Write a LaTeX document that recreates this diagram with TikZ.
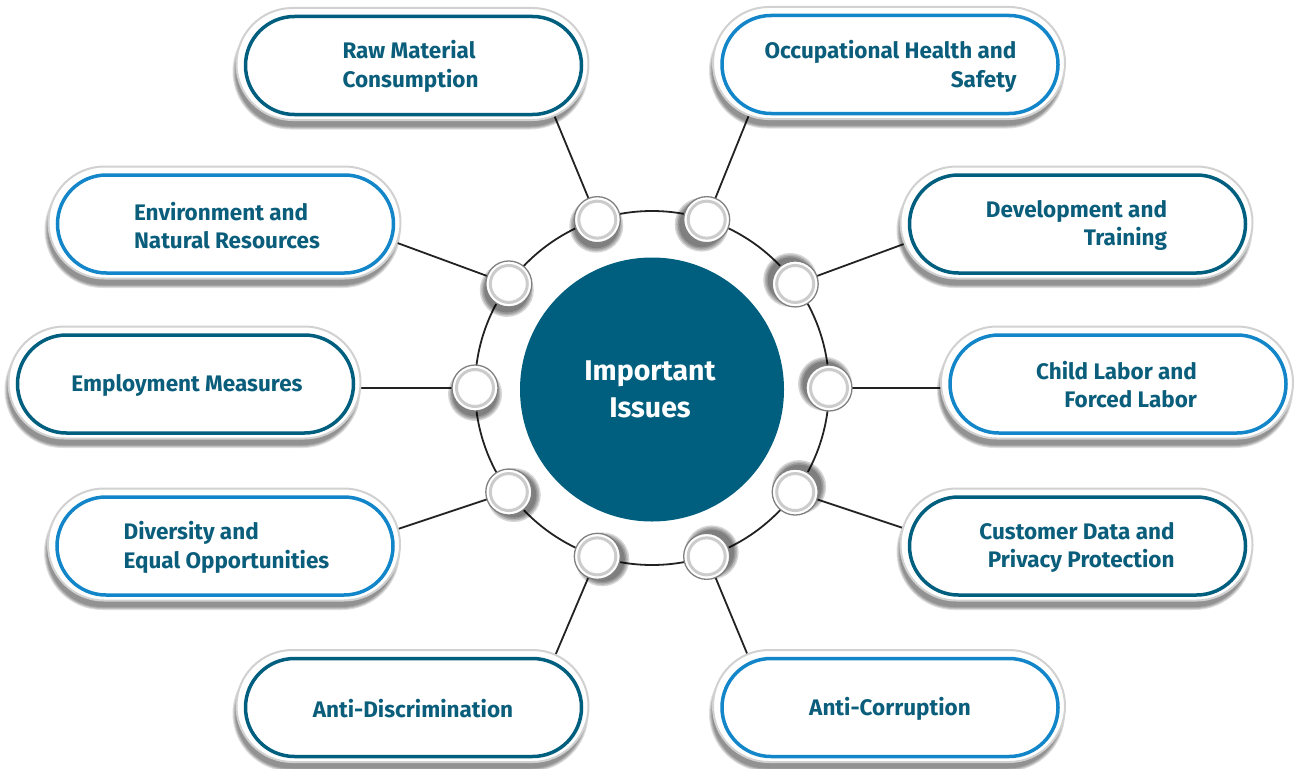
\documentclass[tikz,border=0pt]{standalone}
\usepackage{fontspec}
\setmainfont{Fira Sans}
\usetikzlibrary{shapes.misc,calc,backgrounds}
\definecolor{tealc}{HTML}{005F7E}
\definecolor{bluec}{HTML}{1386C9}
\definecolor{txtc}{HTML}{0B5E7B}
\definecolor{linec}{HTML}{222222}
\begin{document}
\begin{tikzpicture}[x=1pt,y=-1pt,
  outerpill/.style={rounded rectangle, minimum width=352pt, minimum height=112pt, inner sep=0pt, fill=white, draw=black!18, line width=2pt},
  innerpill/.style={rounded rectangle, minimum width=336pt, minimum height=98pt, inner sep=0pt, draw=#1, line width=3.5pt},
  lbl/.style={text=txtc, font=\fontsize{22.5}{28.5}\selectfont\bfseries, inner sep=0pt},
  smallc/.style={circle, minimum size=46pt, inner sep=0pt, fill=white, draw=black!50, line width=1.3pt},
  innerring/.style={draw=black!20, line width=3pt},
  ringl/.style={draw=linec, line width=1.8pt},
  conn/.style={draw=linec, line width=1.8pt}
]
\useasboundingbox (0,0) rectangle (1295,768);

% ---------- boxes ----------
\foreach \n/\x/\y/\c in {1/413.5/65.5/tealc, 2/890/64.5/bluec, 3/225.5/224/bluec, 4/1077.5/224/tealc,
  5/185.5/384/tealc, 6/1118/384/bluec, 7/225/546/bluec, 8/1077.5/546/tealc,
  9/413.5/707.5/tealc, 10/890/707.5/bluec}{
  \foreach \g in {4,2,0,-2}{
    \fill[black, opacity=0.13, rounded corners=56pt+\g pt*0.5]
      (\x-176-3-\g*0.5, \y-56+6-\g*0.5) rectangle (\x+176-3+\g*0.5, \y+56+6+\g*0.5);
  }
  \node[outerpill] (b\n) at (\x-1,\y-1.5) {};
  \node[innerpill=\c] (p\n) at (\x,\y) {};
}

\node[lbl, align=left]  (t1)  at (410.5,66.5)  {Raw Material\\Consumption};
\node[lbl, align=right] (t2)  at (890.5,66.5)  {Occupational Health and\\Safety};
\node[lbl, align=left]  (t3)  at (227,225.5)   {Environment and\\Natural Resources};
\node[lbl, align=right] (t4)  at (1076.5,225.5){Development and\\Training};
\node[lbl]              (t5)  at (187,385)     {Employment Measures};
\node[lbl, align=right] (t6)  at (1116.5,384.5){Child Labor and\\Forced Labor};
\node[lbl, align=left]  (t7)  at (226.5,547.5) {Diversity and\\Equal Opportunities};
\node[lbl, align=right] (t8)  at (1077,547.5)  {Customer Data and\\Privacy Protection};
\node[lbl]              (t9)  at (413,708.5)   {Anti-Discrimination};
\node[lbl]              (t10) at (890,708.5)   {Anti-Corruption};

% ---------- centre ----------
\coordinate (R) at (652,388);
\node[circle, fill=tealc, minimum size=264pt, inner sep=0pt] (centre) at (652,389.5) {};
\node[text=white, font=\fontsize{28.5}{37}\selectfont\bfseries, align=center, inner sep=0pt] (ctext) at (650,389.5) {Important\\Issues};

% ---------- connector ends ----------
\coordinate (e1) at (552,110);
\coordinate (e2) at (751,110);
\coordinate (e3) at (392,241);
\coordinate (e4) at (912,241);
\coordinate (e5) at (352,388);
\coordinate (e6) at (952,388);
\coordinate (e7) at (392,531);
\coordinate (e8) at (912,531);
\coordinate (e9) at (552,663);
\coordinate (e10) at (751,663);

% ---------- small circles ----------
\foreach \a/\sx/\sy/\n in {0/-4/-4/6, 36/-5/-4/4, 72/-5/5/2, 108/-1/6/1,
  144/-2/6/3, 180/0/6/5, 216/5/3/7, 252/5/3/9, 288/5/-4/10, 324/4/-5/8}{
  \coordinate (s\n) at ($(R)+(-\a:177)$);
  \foreach \r in {27,25.5,24,22.5}{
    \fill[black, opacity=0.16] ($(s\n)+(\sx,\sy)$) circle (\r);
  }
  \node[smallc] (c\n) at (s\n) {};
  \draw[innerring] (c\n.center) circle (18.5);
}

% ---------- ring and connectors ----------
\begin{pgfonlayer}{background}
  \draw[ringl] (R) circle (177);
  \foreach \n in {1,...,10}{
    \draw[conn] (c\n.center) -- (e\n);
  }
\end{pgfonlayer}
\end{tikzpicture}
\end{document}
